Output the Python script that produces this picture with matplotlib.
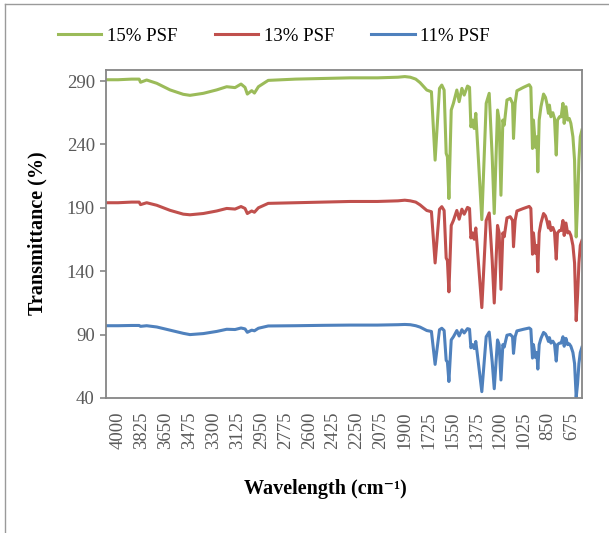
import matplotlib
matplotlib.use("Agg")
import matplotlib.pyplot as plt
from matplotlib.lines import Line2D

plt.rcParams['font.family'] = ['Liberation Serif', 'DejaVu Serif']

# wavenumbers (cm-1), shared by the three spectra
wavenumber = [4088, 4000, 3900, 3845, 3835, 3790, 3716, 3619, 3522, 3473,
              3375, 3277, 3204, 3143, 3099, 3070, 3053, 3021, 3001, 2972,
              2900, 2700, 2500, 2300, 2100, 1950, 1900, 1860, 1820,
              1788, 1739, 1705, 1678, 1646, 1629, 1612, 1597, 1588, 1577,
              1560, 1544, 1519, 1502, 1482, 1465, 1441, 1426, 1416, 1404,
              1392, 1380, 1336, 1304, 1282, 1267, 1260, 1245, 1221, 1209,
              1196, 1182, 1172, 1152, 1128, 1111, 1104, 1092, 1079, 1031,
              989, 977, 965, 958, 943, 933, 926, 916, 903, 884,
              870, 860, 848, 841, 830, 816, 804, 791, 782, 767,
              755, 742, 733, 720, 708, 696, 684, 669, 657, 645,
              635, 625, 615, 603]

psf15 = [291, 291, 291.5, 291.5, 289, 290.8, 288.2, 283, 279.5, 278.7,
         280.3, 283, 285.5, 284.8, 287.6, 285, 279.7, 282.4, 280.5, 285.5,
         290.5, 291.5, 292, 292.5, 292.5, 293, 293.5, 293, 291.5,
         288.7, 282.9, 281.5, 227.6, 284.2, 286.8, 282.9, 232.9, 230.2, 197.3,
         267.1, 272.4, 282.9, 273.7, 284.2, 278.9, 286.0, 285.0, 253.9, 259.2,
         252.6, 264.5, 180.7, 272.4, 280.3, 246.0, 230.2, 185.5, 267.1, 259.2,
         199.9, 259.2, 255.2, 275.0, 276.3, 272.4, 244.7, 272.4, 282.3, 285.0,
         287.1, 285.0, 236.8, 259.2, 237.6, 246.0, 218.3, 259.2, 269.7, 279.7,
         277.1, 272.4, 264.5, 271.0, 261.8, 265.0, 260.5, 231.6, 259.2, 261.8,
         261.8, 272.4, 256.6, 269.7, 259.2, 260.5, 256.6, 246.0, 227.6, 167.0,
         193.4, 227.6, 246.0, 251.3]

psf13 = [194, 194, 194.5, 194.5, 192.5, 194, 192, 188, 185, 184.5,
         185.5, 187.5, 189.5, 189, 191, 189.5, 185.5, 187.5, 186.5, 190,
         193.5, 194, 194.5, 195, 195, 195.5, 196, 195.5, 194.5,
         192.3, 187.9, 186.9, 146.5, 188.9, 190.9, 187.9, 150.4, 148.4, 123.7,
         176.1, 180.0, 187.9, 181.0, 188.9, 184.9, 190.3, 189.5, 166.2, 170.2,
         165.2, 174.1, 111.3, 180.0, 186.0, 160.3, 148.4, 114.9, 176.1, 170.2,
         125.7, 170.2, 167.2, 182.0, 183.0, 180.0, 159.3, 180.0, 187.5, 189.5,
         191.1, 189.5, 153.4, 170.2, 154.0, 160.3, 139.5, 170.2, 178.0, 185.5,
         183.6, 180.0, 174.1, 179.0, 172.1, 174.5, 171.1, 149.5, 170.2, 172.1,
         172.1, 180.0, 168.2, 178.0, 170.2, 171.1, 168.2, 160.3, 146.5, 101.0,
         120.8, 146.5, 160.3, 164.2]

psf11 = [97, 97, 97.2, 97.2, 96.5, 97, 96, 93.5, 91, 90,
         90.8, 92.5, 94.2, 94, 95.2, 94.5, 91.8, 93.5, 93, 95,
         96.8, 97, 97.3, 97.5, 97.5, 97.8, 98, 97.8, 97,
         95.9, 93.2, 92.5, 66.5, 93.8, 95.0, 93.2, 69.7, 68.4, 53.0,
         85.8, 88.3, 93.2, 88.9, 93.8, 91.3, 94.7, 94.2, 79.6, 82.1,
         79.0, 84.6, 45.0, 88.3, 92.0, 75.9, 68.4, 47.3, 85.8, 82.1,
         54.2, 82.1, 80.2, 89.5, 90.1, 88.3, 75.2, 88.3, 92.9, 94.2,
         95.2, 94.2, 71.5, 82.1, 71.9, 75.9, 62.8, 82.1, 87.0, 91.7,
         90.5, 88.3, 84.6, 87.6, 83.3, 84.8, 82.7, 69.1, 82.1, 83.3,
         83.3, 88.3, 80.8, 87.0, 82.1, 82.7, 80.8, 75.9, 67.2, 40.6,
         51.1, 67.2, 75.9, 80.0]

series = [("15% PSF", psf15, "#9BBB59"),
          ("13% PSF", psf13, "#C0504D"),
          ("11% PSF", psf11, "#4F81BD")]

x_ticks = list(range(4000, 674, -175))
y_ticks = [40, 90, 140, 190, 240, 290]

fig = plt.figure(figsize=(6.09, 5.33), dpi=100)
ax = fig.add_axes([0.174, 0.2533, 0.782, 0.6154])

for name, vals, col in series:
    ax.plot(wavenumber, vals, color=col, lw=2.2, label=name, solid_joinstyle='round')

ax.set_xlim(4088, 601)
ax.set_ylim(40, 298.7)
ax.set_xticks(x_ticks)
ax.set_xticklabels([str(t) for t in x_ticks], rotation=90)
ax.set_yticks(y_ticks)
ax.tick_params(axis='x', length=0, pad=10, labelsize=13.5, labelcolor='#595959')
ax.tick_params(axis='y', length=4.5, width=1.2, color='#868686', pad=3.5,
               labelsize=13.5, labelcolor='#595959')
for s in ax.spines.values():
    s.set_color('#868686')
    s.set_linewidth(1.3)

fig.text(0.0616, 0.562, 'Transmittance (%)', rotation=90, ha='center', va='center',
         fontsize=14.5, fontweight='bold')
fig.text(0.535, 0.082, 'Wavelength (cm\u207b\u00b9)', ha='center', va='center',
         fontsize=14.5, fontweight='bold')

handles = [Line2D([], [], color=c, lw=2.2) for _, _, c in series]
fig.legend(handles, [n for n, _, _ in series], loc='center', bbox_to_anchor=(0.45, 0.932),
           ncol=3, frameon=False, fontsize=13.5, handlelength=2.3, handletextpad=0.3,
           columnspacing=2.0)

# outer chart border
fig.add_artist(Line2D([5 / 609, 5 / 609], [0, 1 - 4 / 533], color='#9a9a9a', lw=1.0))
fig.add_artist(Line2D([5 / 609, 1], [1 - 4 / 533, 1 - 4 / 533], color='#9a9a9a', lw=1.0))

fig.savefig('out.png', dpi=100)
